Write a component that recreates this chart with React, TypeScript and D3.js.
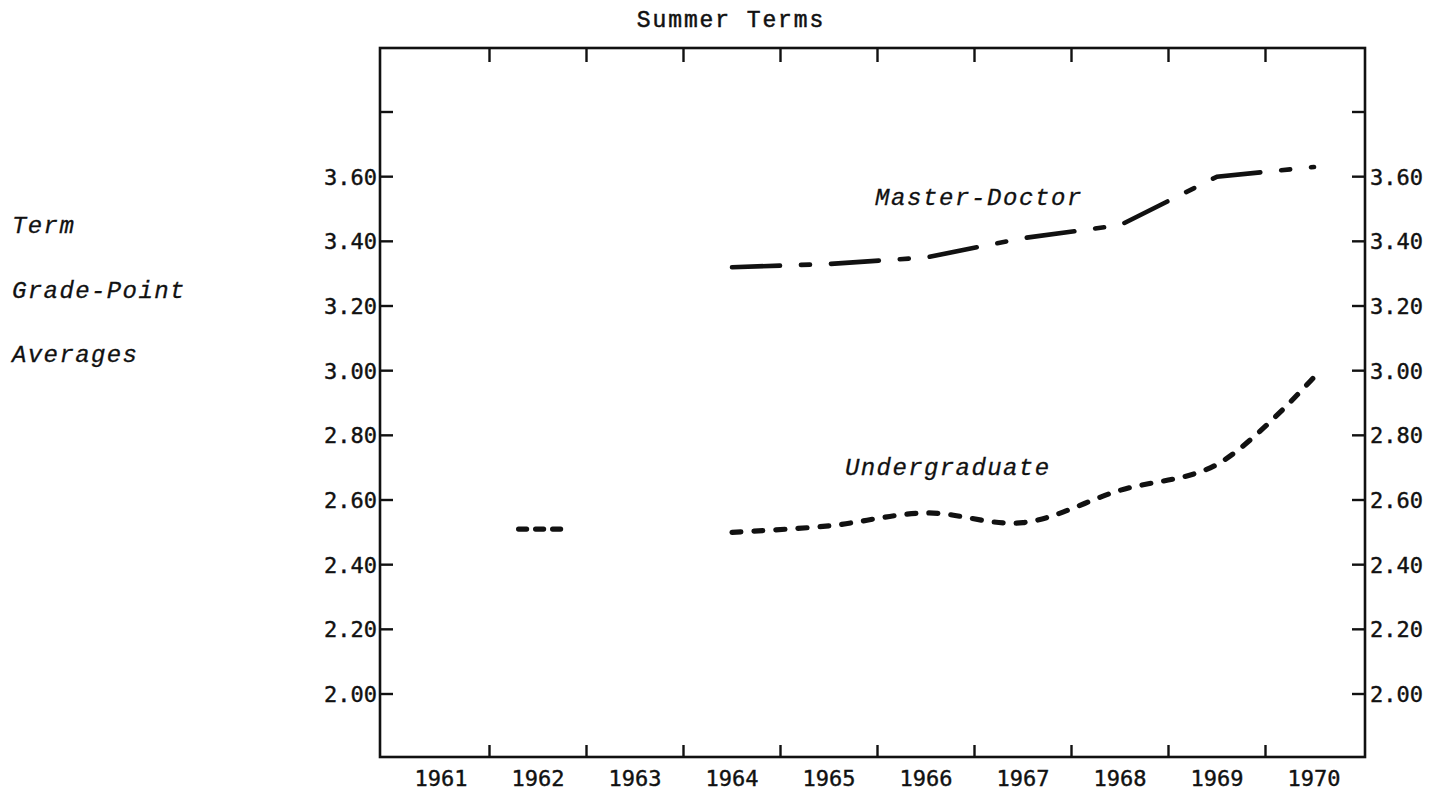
import React from 'react';
import * as d3 from 'd3';

// ---- Data ----
const years = [1961, 1962, 1963, 1964, 1965, 1966, 1967, 1968, 1969, 1970];
const yTickValues = [3.8, 3.6, 3.4, 3.2, 3.0, 2.8, 2.6, 2.4, 2.2, 2.0];
const yTickLabels = ['', '3.60', '3.40', '3.20', '3.00', '2.80', '2.60', '2.40', '2.20', '2.00'];

const mdYears = [1964, 1965, 1966, 1967, 1968, 1969, 1970];
const mdValues = [3.32, 3.33, 3.35, 3.41, 3.45, 3.60, 3.63];

const ugYears = [1964, 1965, 1966, 1967, 1968, 1969, 1970];
const ugValues = [2.50, 2.52, 2.56, 2.53, 2.63, 2.71, 2.98];

const ugIsolatedYear = 1962;
const ugIsolatedValue = 2.51;

const title = 'Summer Terms';
const yAxisTitle = ['Term', 'Grade-Point', 'Averages'];
const seriesLabels = ['Master-Doctor', 'Undergraduate'];

// ---- Layout ----
const W = 1453;
const H = 796;
const frame = { left: 380, right: 1365, top: 48, bottom: 757 };

export default function App() {
  const x = d3.scaleLinear().domain([1961, 1970]).range([441, 1314]);
  const y = d3.scaleLinear().domain([2.0, 3.8]).range([694, 112]);

  const lineLinear = d3
    .line<[number, number]>()
    .x((d) => x(d[0]))
    .y((d) => y(d[1]));
  const lineUg = d3
    .line<[number, number]>()
    .x((d) => x(d[0]))
    .y((d) => y(d[1]))
    .curve(d3.curveCatmullRom.alpha(0.5));

  const mdPts: [number, number][] = mdYears.map((yr, i) => [yr, mdValues[i]]);
  const ugPts: [number, number][] = ugYears.map((yr, i) => [yr, ugValues[i]]);
  const isoPts: [number, number][] = [
    [ugIsolatedYear - 0.2, ugIsolatedValue],
    [ugIsolatedYear + 0.27, ugIsolatedValue],
  ];

  const tickFont = '"DejaVu Sans Mono", "Liberation Mono", monospace';
  const typeFont = '"Liberation Mono", "DejaVu Sans Mono", monospace';
  const black = '#111';

  const between = years.slice(0, -1).map((yr) => yr + 0.5);

  return (
    <div style={{ position: 'absolute', left: 0, top: 0 }}>
      <svg width={W} height={H} style={{ display: 'block', background: '#fff' }}>
        {/* Title */}
        <text
          x={731}
          y={27}
          textAnchor="middle"
          fontFamily={typeFont}
          fontSize={23}
          letterSpacing={1.9}
          fill={black}
          stroke={black}
          strokeWidth={0.5}
        >
          {title}
        </text>

        {/* Frame */}
        <rect
          x={frame.left}
          y={frame.top}
          width={frame.right - frame.left}
          height={frame.bottom - frame.top}
          fill="none"
          stroke={black}
          strokeWidth={2.6}
        />

        {/* Top & bottom ticks */}
        {between.map((v) => (
          <g key={'xt' + v}>
            <line x1={x(v)} x2={x(v)} y1={frame.top} y2={frame.top + 14} stroke={black} strokeWidth={2.4} />
            <line x1={x(v)} x2={x(v)} y1={frame.bottom} y2={frame.bottom - 12} stroke={black} strokeWidth={2.4} />
          </g>
        ))}

        {/* Year labels */}
        {years.map((yr) => (
          <text
            key={'yl' + yr}
            x={x(yr)}
            y={786}
            textAnchor="middle"
            fontFamily={tickFont}
            fontSize={22}
            fill={black}
            stroke={black}
            strokeWidth={0.4}
          >
            {String(yr)}
          </text>
        ))}

        {/* Y ticks both sides */}
        {yTickValues.map((v, i) => (
          <g key={'yt' + v}>
            <line x1={frame.left} x2={frame.left + 13} y1={y(v)} y2={y(v)} stroke={black} strokeWidth={2.4} />
            <line x1={frame.right - 13} x2={frame.right} y1={y(v)} y2={y(v)} stroke={black} strokeWidth={2.4} />
            {yTickLabels[i] && (
              <text
                x={frame.left - 3}
                y={y(v)}
                dy="0.36em"
                textAnchor="end"
                fontFamily={tickFont}
                fontSize={22}
                fill={black}
                stroke={black}
                strokeWidth={0.4}
              >
                {yTickLabels[i]}
              </text>
            )}
            {yTickLabels[i] && (
              <text
                x={frame.right + 5}
                y={y(v)}
                dy="0.36em"
                textAnchor="start"
                fontFamily={tickFont}
                fontSize={22}
                fill={black}
                stroke={black}
                strokeWidth={0.4}
              >
                {yTickLabels[i]}
              </text>
            )}
          </g>
        ))}

        {/* Y axis title (left) */}
        {yAxisTitle.map((t, i) => (
          <text
            key={'yat' + i}
            x={12}
            y={233 + i * 64.5}
            fontFamily={typeFont}
            fontStyle="italic"
            fontSize={24}
            letterSpacing={1.4}
            fill={black}
            stroke={black}
            strokeWidth={0.3}
          >
            {t}
          </text>
        ))}

        {/* Master-Doctor: dash-dot */}
        <path
          d={lineLinear(mdPts) || ''}
          fill="none"
          stroke={black}
          strokeWidth={4.6}
          strokeLinecap="round"
          strokeDasharray="48 21 9 21"
        />

        {/* Undergraduate: short dashes */}
        <path
          d={lineUg(ugPts) || ''}
          fill="none"
          stroke={black}
          strokeWidth={5.2}
          strokeLinecap="round"
          strokeDasharray="9 13"
        />
        <path
          d={lineLinear(isoPts) || ''}
          fill="none"
          stroke={black}
          strokeWidth={5.2}
          strokeLinecap="round"
          strokeDasharray="8 9"
        />

        {/* Series labels */}
        <text
          x={875}
          y={205}
          fontFamily={typeFont}
          fontStyle="italic"
          fontSize={24}
          letterSpacing={1.6}
          fill={black}
          stroke={black}
          strokeWidth={0.3}
        >
          {seriesLabels[0]}
        </text>
        <text
          x={845}
          y={475}
          fontFamily={typeFont}
          fontStyle="italic"
          fontSize={24}
          letterSpacing={1.4}
          fill={black}
          stroke={black}
          strokeWidth={0.3}
        >
          {seriesLabels[1]}
        </text>
      </svg>
    </div>
  );
}
